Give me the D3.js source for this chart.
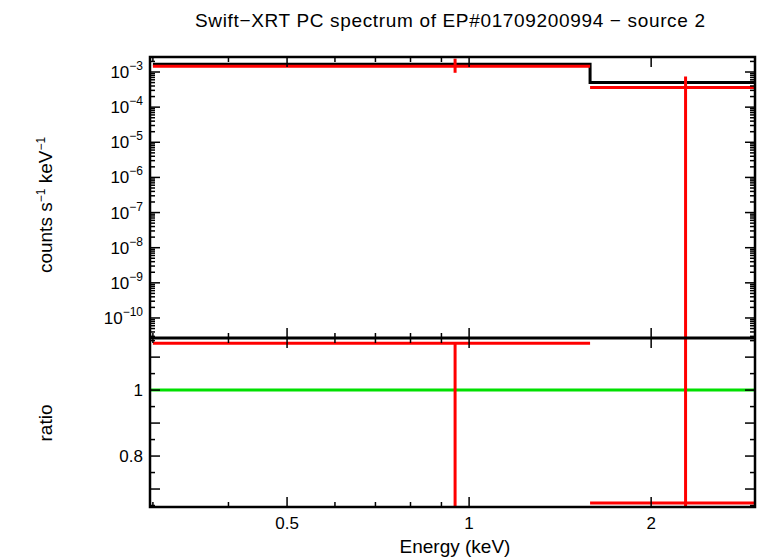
<!DOCTYPE html>
<html><head><meta charset="utf-8">
<script src="https://cdn.jsdelivr.net/npm/d3@7"></script>
<style>body{margin:0;background:#fff}text{font-family:"Liberation Sans",Arial,sans-serif}</style>
</head><body><div id="chart"></div>
<script>
var width = 758, height = 558;
// model (black) bins
var modelLo = [0.3, 1.585];
var modelHi = [1.585, 3.0];
var modelVal = [1.65e-3, 5.0e-4];
// data (red)
var dataE = [0.948, 2.28];
var dataVal = [1.45e-3, 3.6e-4];
var dataErrLo = [0.95e-3, 1e-12];
var dataErrHi = [2.4e-3, 7.4e-4];
var ratioVal = [1.142, 0.658];
var ratioErrLo = [0.5, 0.5];
var ratioErrHi = [1.142, 1.5];
var xTicks = [0.5, 1, 2];
var yTopTicks = [-3, -4, -5, -6, -7, -8, -9, -10];
var yBotTicks = [0.8, 1];

var L = 150, R = 755, T1 = 57, B1 = 338, B2 = 507;
var svg = d3.select("#chart").append("svg").attr("width", width).attr("height", height);
var x = d3.scaleLog().domain([0.2967, 2.97]).range([L, R]);
var yT = d3.scaleLog().domain([Math.pow(10, -10.57), Math.pow(10, -2.573)]).range([B1, T1]);
var yB = d3.scaleLinear().domain([0.6455, 1.158]).range([B2, B1]);

var defs = svg.append("defs");
defs.append("clipPath").attr("id", "c1").append("rect").attr("x", L).attr("y", T1).attr("width", R - L).attr("height", B1 - T1);
defs.append("clipPath").attr("id", "c2").append("rect").attr("x", L).attr("y", B1).attr("width", R - L).attr("height", B2 - B1);

function line(g, x1, y1, x2, y2, c, w) {
  g.append("line").attr("x1", x1).attr("y1", y1).attr("x2", x2).attr("y2", y2)
    .attr("stroke", c).attr("stroke-width", w || 3);
}

// top panel
var g1 = svg.append("g").attr("clip-path", "url(#c1)");
var step = "";
modelLo.forEach(function(lo, i) {
  step += (i ? "L" : "M") + x(lo) + "," + yT(modelVal[i]) + "L" + x(modelHi[i]) + "," + yT(modelVal[i]);
});
g1.append("path").attr("d", step).attr("fill", "none").attr("stroke", "#000").attr("stroke-width", 3);
dataE.forEach(function(e, i) {
  line(g1, x(modelLo[i]), yT(dataVal[i]), x(modelHi[i]), yT(dataVal[i]), "red");
  line(g1, x(e), yT(dataErrLo[i]), x(e), yT(dataErrHi[i]), "red");
});

// bottom panel
var g2 = svg.append("g").attr("clip-path", "url(#c2)");
line(g2, L, yB(1), R, yB(1), "#00e000");
dataE.forEach(function(e, i) {
  line(g2, x(modelLo[i]), yB(ratioVal[i]), x(modelHi[i]), yB(ratioVal[i]), "red");
  line(g2, x(e), yB(ratioErrLo[i]), x(e), yB(ratioErrHi[i]), "red");
});

// frames
var ax = svg.append("g");
ax.append("rect").attr("x", L).attr("y", T1).attr("width", R - L).attr("height", B2 - T1)
  .attr("fill", "none").attr("stroke", "#000").attr("stroke-width", 2.5);
line(ax, L, B1, R, B1, "#000");

// x ticks
var xMinor = [0.3, 0.4, 0.6, 0.7, 0.8, 0.9, 3];
[[T1, 1], [B1, -1], [B1, 1], [B2, -1]].forEach(function(p) {
  xTicks.forEach(function(t) { line(ax, x(t), p[0], x(t), p[0] + 10 * p[1], "#000", 1.5); });
  xMinor.forEach(function(t) { if (x(t) < R) line(ax, x(t), p[0], x(t), p[0] + 5 * p[1], "#000", 1.5); });
});
xTicks.forEach(function(t) {
  ax.append("text").attr("x", x(t)).attr("y", 529).attr("text-anchor", "middle").attr("font-size", 17).text(t);
});

// top y ticks
for (var d = -11; d <= -3; d++) {
  for (var m = 1; m < 10; m++) {
    var v = m * Math.pow(10, d), yy = yT(v);
    if (yy < T1 || yy > B1) continue;
    var len = m === 1 ? 10 : 5;
    line(ax, L, yy, L + len, yy, "#000", 1.5);
    line(ax, R, yy, R - len, yy, "#000", 1.5);
  }
}
yTopTicks.forEach(function(e) {
  var t = ax.append("text").attr("x", 143).attr("y", yT(Math.pow(10, e)) + 6)
    .attr("text-anchor", "end").attr("font-size", 17);
  t.append("tspan").text("10");
  t.append("tspan").attr("dy", -8).attr("font-size", 12).text("\u2212" + (-e));
});

// bottom y ticks
for (var k = 13; k <= 23; k++) {
  var vv = k * 0.05, y2 = yB(vv);
  if (y2 < B1 || y2 > B2) continue;
  var len2 = (k % 2 === 0) ? 10 : 5;
  line(ax, L, y2, L + len2, y2, "#000", 1.5);
  line(ax, R, y2, R - len2, y2, "#000", 1.5);
}
yBotTicks.forEach(function(t) {
  ax.append("text").attr("x", 143).attr("y", yB(t) + 6).attr("text-anchor", "end").attr("font-size", 17).text(t);
});

// labels
svg.append("text").attr("x", 450).attr("y", 27).attr("text-anchor", "middle").attr("font-size", 19)
  .attr("textLength", 510).text("Swift\u2212XRT PC spectrum of EP#01709200994 \u2212 source 2");
svg.append("text").attr("x", 455).attr("y", 553).attr("text-anchor", "middle").attr("font-size", 19).text("Energy (keV)");
svg.append("text").attr("font-size", 19)
  .attr("transform", "translate(52,205) rotate(-90)").attr("text-anchor", "middle").attr("x", 0)
  .html('counts s<tspan dy="-7" font-size="12">\u22121</tspan><tspan dy="7"> keV</tspan><tspan dy="-7" font-size="12">\u22121</tspan>');
svg.append("text").attr("font-size", 19).attr("text-anchor", "middle")
  .attr("transform", "translate(52,423) rotate(-90)").text("ratio");
</script></body></html>
